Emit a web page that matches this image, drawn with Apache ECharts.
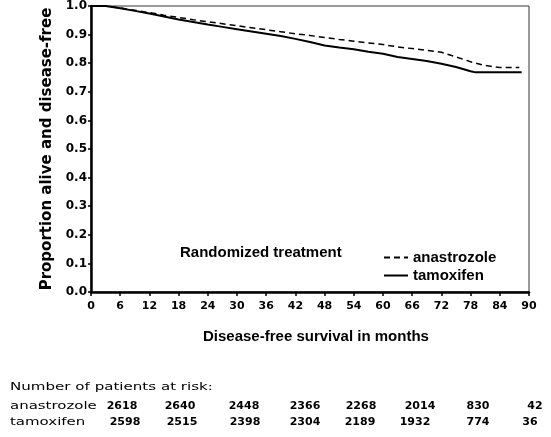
<!DOCTYPE html>
<html><head><meta charset="utf-8">
<script src="https://cdn.jsdelivr.net/npm/echarts@6/dist/echarts.min.js"></script>
<style>html,body{margin:0;padding:0;background:#fff}#c{width:551px;height:437px}</style>
</head><body><div id="c"></div>
<script>
const anaMonths = [0,3,6,9,12,15,18,21,24,27,30,33,36,39,42,45,48,51,54,57,60,63,66,69,72,75,78,81,84,88];
const anaValues = [1.0,1.0,0.993,0.985,0.977,0.968,0.960,0.952,0.945,0.938,0.931,0.924,0.917,0.910,0.903,0.897,0.890,0.883,0.877,0.871,0.865,0.857,0.851,0.845,0.838,0.822,0.805,0.792,0.785,0.785];
const tamMonths = [0,3,6,9,12,15,18,21,24,27,30,33,36,39,42,45,48,51,54,57,60,63,66,69,72,75,78,79,88.5];
const tamValues = [1.0,1.0,0.992,0.983,0.974,0.963,0.953,0.944,0.935,0.927,0.919,0.911,0.903,0.895,0.885,0.874,0.862,0.855,0.849,0.840,0.833,0.822,0.815,0.808,0.798,0.787,0.772,0.768,0.768];
const seriesNames = ['anastrozole','tamoxifen'];
const riskTitle = 'Number of patients at risk:';
const riskAna = ['2618','2640','2448','2366','2268','2014','830','42'];
const riskTam = ['2598','2515','2398','2304','2189','1932','774','36'];
const anaCols = [122,180,244,305,361,420,478,535];
const tamCols = [125,182,245,305,360,415,478,530];

const zip = (xs, ys) => xs.map((x,i)=>[x, ys[i]]);
const F = '"DejaVu Sans", sans-serif';
const A = 'Arial, "Liberation Sans", sans-serif';

const graphic = [
  {type:'text', left:180, top:245, style:{text:'Randomized treatment', font:'bold 15px '+A, fill:'#000'}},
  {type:'text', x:10, y:382, scaleX:1.37, style:{text:riskTitle, font:'11px '+F, fill:'#000'}},
  {type:'text', x:10, y:401, scaleX:1.36, style:{text:'anastrozole', font:'11px '+F, fill:'#000'}},
  {type:'text', x:10, y:417, scaleX:1.36, style:{text:'tamoxifen', font:'11px '+F, fill:'#000'}},
  {type:'text', left:203, top:329, style:{text:'Disease-free survival in months', font:'bold 15px '+A, fill:'#000'}}
];
riskAna.forEach((v,i)=>graphic.push({type:'text', x:anaCols[i], y:401, style:{text:v, font:'bold 11px '+F, fill:'#000', align:'center'}}));
riskTam.forEach((v,i)=>graphic.push({type:'text', x:tamCols[i], y:417, style:{text:v, font:'bold 11px '+F, fill:'#000', align:'center'}}));

const chart = echarts.init(document.getElementById('c'));
chart.setOption({
  backgroundColor:'#fff',
  animation:false,
  grid:{left:91, right:22, top:6, bottom:145, show:true, borderColor:'#333', borderWidth:1},
  legend:{
    orient:'vertical', left:378, top:245, itemWidth:24, itemHeight:10, itemGap:3,
    itemStyle:{opacity:0},
    data:seriesNames, textStyle:{fontFamily:A, fontWeight:'bold', fontSize:15, color:'#000'}
  },
  xAxis:{
    type:'value', min:0, max:90, interval:6,
    axisLine:{show:true, onZero:false, lineStyle:{color:'#000', width:2.5}},
    axisTick:{show:true, length:4, lineStyle:{color:'#000', width:1.5}},
    axisLabel:{color:'#000', fontFamily:F, fontWeight:'bold', fontSize:11, margin:9},
    splitLine:{show:false}
  },
  yAxis:{
    type:'value', min:0, max:1, interval:0.1,
    name:'Proportion alive and disease-free', nameLocation:'middle', nameGap:36,
    nameTextStyle:{color:'#000', fontFamily:F, fontWeight:'bold', fontSize:15},
    axisLine:{show:true, lineStyle:{color:'#000', width:2.5}},
    axisTick:{show:true, length:3, lineStyle:{color:'#000', width:1.5}},
    axisLabel:{color:'#000', fontFamily:F, fontWeight:'bold', fontSize:12, margin:4, formatter:v=>v.toFixed(1)},
    splitLine:{show:false}
  },
  graphic: graphic,
  series:[
    {name:seriesNames[0], type:'line', symbol:'none', data:zip(anaMonths, anaValues),
     lineStyle:{color:'#000', width:1.5, type:[6,4]}, itemStyle:{color:'#000'}},
    {name:seriesNames[1], type:'line', symbol:'none', data:zip(tamMonths, tamValues),
     lineStyle:{color:'#000', width:2}, itemStyle:{color:'#000'}}
  ]
});
</script></body></html>
